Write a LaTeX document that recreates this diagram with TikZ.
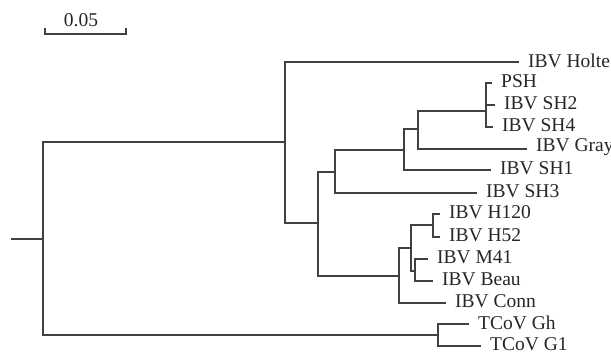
\documentclass[tikz,border=0pt]{standalone}
\usepackage{fontspec}
\setmainfont{Liberation Serif}
\usepackage{tikz}
\usetikzlibrary{calc}

\tikzset{
    branch/.style={line width=1.3pt, draw=black!75},
    taxon/.style={font=\fontsize{19.5}{22}\selectfont, text=black!85, inner sep=0pt, label distance=9pt, yshift=1.5pt}
}

\begin{document}
\begin{tikzpicture}[x=1pt, y=-1pt]
        \useasboundingbox (0,0) rectangle (611,353);
        \coordinate (sbl) at (45,34);
        \coordinate (sbr) at (126,34);
        \node [taxon] (sbtext) at (81,22) {0.05};
        \draw [branch] ($(sbl)+(0,-6)$) -- (sbl) -- (sbr) -- ($(sbr)+(0,-6)$);
        \coordinate (stub) at (11,239);
        \coordinate (root) at (43,239);
        \coordinate (upper) at (285,142);
        \coordinate (core) at (318,223);
        \coordinate (shclade) at (335,172);
        \coordinate (shone) at (404,150);
        \coordinate (grayn) at (418,129);
        \coordinate (pshn) at (486,111);
        \coordinate (mass) at (399,276);
        \coordinate (hclade) at (411,248);
        \coordinate (hpair) at (433,225);
        \coordinate (mpair) at (415,271);
        \coordinate (tcov) at (438,335);
        \coordinate [label={[taxon]right:IBV Holte}] (holte) at (519,62);
        \coordinate [label={[taxon]right:PSH}] (psh) at (492,83);
        \coordinate [label={[taxon]right:IBV SH2}] (shtwo) at (495,105);
        \coordinate [label={[taxon]right:IBV SH4}] (shfour) at (493,127);
        \coordinate [label={[taxon]right:IBV Gray}] (gray) at (527,149);
        \coordinate [label={[taxon]right:IBV SH1}] (shonel) at (491,170);
        \coordinate [label={[taxon]right:IBV SH3}] (shthree) at (477,193);
        \coordinate [label={[taxon]right:IBV H120}] (hotw) at (440,214);
        \coordinate [label={[taxon]right:IBV H52}] (hfif) at (440,237);
        \coordinate [label={[taxon]right:IBV M41}] (mfor) at (428,259);
        \coordinate [label={[taxon]right:IBV Beau}] (beau) at (433,281);
        \coordinate [label={[taxon]right:IBV Conn}] (conn) at (446,303);
        \coordinate [label={[taxon]right:TCoV Gh}] (gh) at (469,324);
        \coordinate [label={[taxon]right:TCoV G1}] (gone) at (481,346);
        \draw [branch] (stub) -- (root);
        \draw [branch] (root) |- (upper);
        \draw [branch] (root) |- (tcov);
        \draw [branch] (upper) |- (holte);
        \draw [branch] (upper) |- (core);
        \draw [branch] (core) |- (shclade);
        \draw [branch] (core) |- (mass);
        \draw [branch] (shclade) |- (shone);
        \draw [branch] (shclade) |- (shthree);
        \draw [branch] (shone) |- (grayn);
        \draw [branch] (shone) |- (shonel);
        \draw [branch] (grayn) |- (pshn);
        \draw [branch] (grayn) |- (gray);
        \draw [branch] (pshn) |- (psh);
        \draw [branch] (pshn) |- (shtwo);
        \draw [branch] (pshn) |- (shfour);
        \draw [branch] (mass) |- (hclade);
        \draw [branch] (mass) |- (conn);
        \draw [branch] (hclade) |- (hpair);
        \draw [branch] (hclade) |- (mpair);
        \draw [branch] (hpair) |- (hotw);
        \draw [branch] (hpair) |- (hfif);
        \draw [branch] (mpair) |- (mfor);
        \draw [branch] (mpair) |- (beau);
        \draw [branch] (tcov) |- (gh);
        \draw [branch] (tcov) |- (gone);
    \end{tikzpicture}
\end{document}
